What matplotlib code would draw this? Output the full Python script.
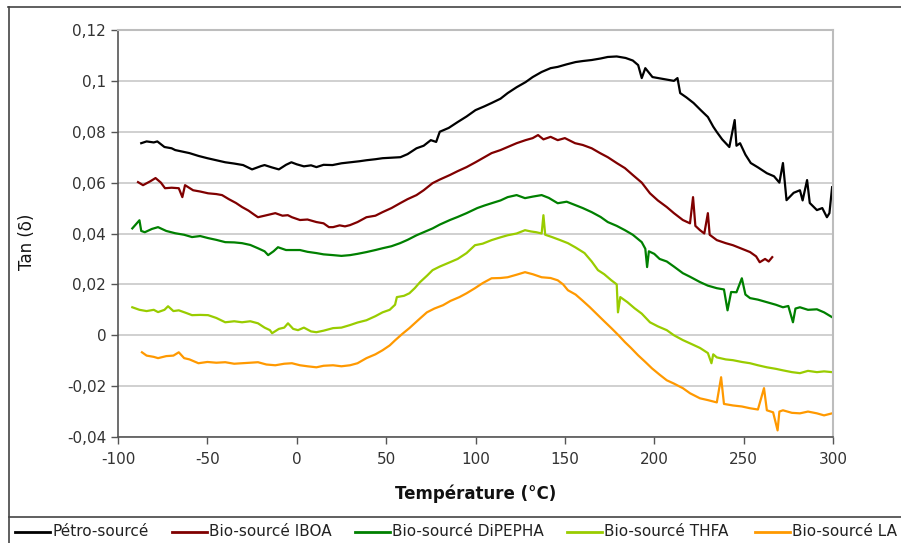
import matplotlib
matplotlib.use("Agg")
import matplotlib.pyplot as plt
from matplotlib.lines import Line2D
from matplotlib.ticker import FuncFormatter

plt.rcParams["font.family"] = "DejaVu Sans"
plt.rcParams["axes.unicode_minus"] = False

# Pétro-sourcé
petro_t = [-87, -84, -80, -78, -74, -70, -68, -64, -60, -55, -50, -45, -40, -35, -30, -25, -20, -18,
           -14, -10, -6, -3, 0, 4, 8, 11, 15, 20, 25, 30, 35, 39, 44, 48, 53, 58, 62, 67, 71, 75, 78,
           80, 85, 90, 95, 100, 105, 109, 114, 118, 123, 128, 132, 137, 142, 146, 151, 156, 160, 165,
           170, 174, 179, 184, 188, 191, 193, 195, 199, 203, 207, 211, 213, 214.5, 218, 222, 226, 230,
           233, 235, 238, 242, 245, 246, 248, 251, 254, 258, 263, 267, 270, 272, 274, 278, 281.5, 283,
           285.5, 287, 291, 294, 296.6, 298, 299.5]
petro_v = [0.0755, 0.0762, 0.0758, 0.0762, 0.0740, 0.0735, 0.0728, 0.0722, 0.0716, 0.0705, 0.0696,
           0.0688, 0.0680, 0.0675, 0.0669, 0.0652, 0.0665, 0.0669, 0.0660, 0.0652, 0.0670, 0.0680,
           0.0672, 0.0664, 0.0668, 0.0661, 0.0670, 0.0669, 0.0676, 0.0680, 0.0684, 0.0688, 0.0692,
           0.0696, 0.0698, 0.0700, 0.0712, 0.0735, 0.0745, 0.0767, 0.0760, 0.0800, 0.0815, 0.0838,
           0.0860, 0.0885, 0.0900, 0.0913, 0.0930, 0.0952, 0.0975, 0.0995, 0.1015, 0.1035, 0.1050,
           0.1055, 0.1065, 0.1074, 0.1078, 0.1082, 0.1088, 0.1094, 0.1096, 0.1090, 0.1080, 0.1062,
           0.1011, 0.1050, 0.1015, 0.1010, 0.1005, 0.1000, 0.1011, 0.0952, 0.0935, 0.0913, 0.0885,
           0.0858, 0.0820, 0.0799, 0.0770, 0.0740, 0.0846, 0.0745, 0.0755, 0.0710, 0.0677, 0.0660,
           0.0637, 0.0625, 0.0600, 0.0677, 0.0531, 0.0560, 0.0570, 0.0530, 0.0610, 0.0520, 0.0492,
           0.0500, 0.0464, 0.0480, 0.0582]

# Bio-sourcé IBOA
iboa_t = [-88.8, -86, -82, -79, -76, -73.7, -70, -66, -64, -62.5, -58, -54, -49.6, -45, -41.8, -38,
          -34, -30.6, -27, -24, -21.7, -18, -15, -12, -8, -5, -2.7, 1.8, 6, 11, 15, 18, 20.3, 24, 27,
          29.8, 34, 39, 44, 48, 53, 57.8, 62, 67, 71, 76, 80, 85.7, 90, 95, 100, 105, 109, 114, 118,
          123, 128, 132, 135, 138, 142, 146, 150, 155.7, 160, 165, 169.7, 174, 179, 183.6, 188, 193,
          197.6, 202, 207, 211, 216, 220, 221.7, 223, 225.6, 228, 230, 231, 235, 240, 244, 249, 253.6,
          257, 259, 262, 264, 266]
iboa_v = [0.0602, 0.0590, 0.0605, 0.0618, 0.0600, 0.0578, 0.0580, 0.0578, 0.0543, 0.0590, 0.0570,
          0.0565, 0.0558, 0.0555, 0.0551, 0.0535, 0.0520, 0.0504, 0.0490, 0.0475, 0.0464, 0.0470,
          0.0475, 0.0480, 0.0470, 0.0472, 0.0464, 0.0453, 0.0455, 0.0445, 0.0440, 0.0425, 0.0425,
          0.0432, 0.0428, 0.0433, 0.0445, 0.0464, 0.0470, 0.0484, 0.0500, 0.0519, 0.0535, 0.0551,
          0.0570, 0.0598, 0.0612, 0.0630, 0.0645, 0.0661, 0.0680, 0.0700, 0.0716, 0.0728, 0.0740,
          0.0755, 0.0767, 0.0775, 0.0787, 0.0770, 0.0780, 0.0767, 0.0775, 0.0755, 0.0748, 0.0735,
          0.0716, 0.0700, 0.0677, 0.0657, 0.0630, 0.0600, 0.0558, 0.0530, 0.0504, 0.0480, 0.0453,
          0.0440, 0.0543, 0.0430, 0.0413, 0.0400, 0.0480, 0.0395, 0.0374, 0.0362, 0.0354, 0.0340,
          0.0327, 0.0310, 0.0287, 0.0300, 0.0290, 0.0307]

# Bio-sourcé DiPEPHA
dipepha_t = [-92, -88, -87, -85, -81, -77.6, -73, -68, -63, -58.6, -54, -49.6, -45, -40, -35, -30.6,
             -26, -21.7, -18, -16, -13, -10.5, -6, -2.7, 1.8, 6, 11, 15, 20.3, 25, 29.8, 34, 39, 44,
             48, 53, 57.8, 62, 67, 71, 76, 80, 85.7, 90, 95, 101, 105, 109, 114, 118, 123, 127.7, 132,
             137, 141, 146, 151, 155.7, 160, 165, 170, 174, 179, 183.6, 188, 193, 195, 196, 197, 200,
             203, 207, 211, 216, 220, 225.6, 230, 235, 239, 241, 243, 246, 249, 251, 253.6, 258, 263,
             268, 272, 275, 277.6, 279, 281.5, 286, 291, 295, 299.5]
dipepha_v = [0.0420, 0.0452, 0.0410, 0.0405, 0.0418, 0.0425, 0.0410, 0.0401, 0.0395, 0.0386, 0.0390,
             0.0382, 0.0375, 0.0366, 0.0365, 0.0362, 0.0355, 0.0342, 0.0330, 0.0315, 0.0330, 0.0346,
             0.0335, 0.0335, 0.0335, 0.0328, 0.0323, 0.0318, 0.0315, 0.0312, 0.0315, 0.0320, 0.0327,
             0.0335, 0.0342, 0.0350, 0.0362, 0.0375, 0.0393, 0.0405, 0.0420, 0.0435, 0.0453, 0.0465,
             0.0480, 0.0500, 0.0510, 0.0519, 0.0530, 0.0543, 0.0551, 0.0539, 0.0545, 0.0551, 0.0540,
             0.0519, 0.0525, 0.0512, 0.0500, 0.0484, 0.0465, 0.0445, 0.0430, 0.0413, 0.0395, 0.0366,
             0.0340, 0.0268, 0.0330, 0.0320, 0.0300, 0.0290, 0.0270, 0.0244, 0.0230, 0.0209, 0.0195,
             0.0185, 0.0180, 0.0098, 0.0170, 0.0169, 0.0224, 0.0160, 0.0146, 0.0140, 0.0130, 0.0120,
             0.0110, 0.0115, 0.0051, 0.0105, 0.0110, 0.0100, 0.0102, 0.0090, 0.0071]

# Bio-sourcé THFA
thfa_t = [-92, -88, -84, -80, -77.6, -74, -72, -69, -66, -62, -58.6, -54, -49.6, -45, -40, -35, -30.6,
          -26, -21.7, -18, -15, -13.8, -10, -7, -4.9, -2, 0.7, 4, 8, 11, 15, 20.3, 25, 29.8, 34, 39,
          44, 48, 52, 55, 56, 60, 63, 66, 69, 73, 76, 80, 85.7, 90, 95, 99.7, 104, 109, 114, 118, 123,
          127.7, 131, 134, 137, 138, 139, 142.8, 147, 151.7, 156, 161, 165, 168.5, 172, 176, 179,
          179.7, 181, 185, 189, 193, 197.6, 202, 207, 211, 216, 221, 225.6, 230, 232, 233, 235, 240,
          244, 249, 253.6, 258, 263, 268, 272, 277, 281.5, 286, 291, 295, 299.5]
thfa_v = [0.0110, 0.0100, 0.0095, 0.0100, 0.0091, 0.0100, 0.0114, 0.0095, 0.0098, 0.0088, 0.0079,
          0.0080, 0.0079, 0.0068, 0.0051, 0.0055, 0.0051, 0.0055, 0.0047, 0.0030, 0.0020, 0.0008,
          0.0025, 0.0030, 0.0047, 0.0025, 0.0020, 0.0030, 0.0015, 0.0012, 0.0018, 0.0028, 0.0030,
          0.0040, 0.0050, 0.0059, 0.0075, 0.0090, 0.0100, 0.0120, 0.0150, 0.0155, 0.0165, 0.0185,
          0.0209, 0.0235, 0.0256, 0.0270, 0.0287, 0.0300, 0.0323, 0.0354, 0.0360, 0.0374, 0.0385,
          0.0393, 0.0400, 0.0413, 0.0408, 0.0405, 0.0400, 0.0472, 0.0395, 0.0386, 0.0375, 0.0362,
          0.0345, 0.0323, 0.0290, 0.0256, 0.0240, 0.0216, 0.0200, 0.0090, 0.0150, 0.0130, 0.0106,
          0.0085, 0.0051, 0.0035, 0.0020, 0.0000, -0.0019, -0.0035, -0.0050, -0.0070, -0.0110,
          -0.0075, -0.0087, -0.0095, -0.0098, -0.0105, -0.0110, -0.0118, -0.0126, -0.0132, -0.0138,
          -0.0145, -0.0149, -0.0140, -0.0145, -0.0142, -0.0145]

# Bio-sourcé LA
la_t = [-86.6, -84, -80, -77.6, -73, -69, -66, -63, -60, -55, -50, -45, -40, -35, -30.6, -26, -21.7,
        -17, -12, -7, -2.7, 1.8, 6, 11, 15, 20.3, 25, 29.8, 34, 39, 44, 48, 52, 55, 59, 63, 68, 72.8,
        77, 81.8, 86, 91, 95, 99.7, 104, 109, 114, 118, 123, 127.7, 132, 137, 142, 146, 149, 151.7,
        156, 159.6, 164, 168.5, 172, 176, 180, 183.6, 187, 191, 195, 198.7, 203, 207, 211, 216, 220,
        225.6, 230, 235, 237.4, 239, 244, 249, 253.6, 258, 261.4, 263, 266.5, 269, 270, 272, 277,
        281.5, 286, 291, 295, 299.5]
la_v = [-0.0067, -0.0080, -0.0085, -0.0090, -0.0082, -0.0080, -0.0067, -0.0090, -0.0095, -0.0110,
        -0.0105, -0.0108, -0.0106, -0.0112, -0.0110, -0.0108, -0.0106, -0.0115, -0.0118, -0.0112,
        -0.0110, -0.0118, -0.0122, -0.0126, -0.0120, -0.0118, -0.0122, -0.0118, -0.0110, -0.0090,
        -0.0075, -0.0059, -0.0040, -0.0020, 0.0005, 0.0028, 0.0060, 0.0090, 0.0105, 0.0118, 0.0135,
        0.0150, 0.0165, 0.0185, 0.0205, 0.0224, 0.0225, 0.0228, 0.0238, 0.0248, 0.0240, 0.0228,
        0.0225, 0.0216, 0.0200, 0.0177, 0.0160, 0.0138, 0.0110, 0.0079, 0.0055, 0.0028, 0.0000,
        -0.0027, -0.0050, -0.0079, -0.0105, -0.0130, -0.0155, -0.0177, -0.0190, -0.0208, -0.0228,
        -0.0248, -0.0255, -0.0264, -0.0165, -0.0270, -0.0276, -0.0280, -0.0287, -0.0292, -0.0208,
        -0.0295, -0.0303, -0.0374, -0.0300, -0.0295, -0.0305, -0.0307, -0.0300, -0.0307, -0.0315,
        -0.0307]

labels = ["Pétro-sourcé", "Bio-sourcé IBOA", "Bio-sourcé DiPEPHA", "Bio-sourcé THFA", "Bio-sourcé LA"]
colors = ["#000000", "#800000", "#008000", "#99CC00", "#FF9900"]
series = [(petro_t, petro_v), (iboa_t, iboa_v), (dipepha_t, dipepha_v), (thfa_t, thfa_v), (la_t, la_v)]

W, H = 901, 543
fig = plt.figure(figsize=(W / 100, H / 100), dpi=100)
ax = fig.add_axes([118 / W, 1 - 437 / H, (833 - 118) / W, (437 - 30) / H])

for (t, v), c in zip(series, colors):
    ax.plot(t, v, color=c, linewidth=1.6)

ax.set_xlim(-100, 300)
ax.set_ylim(-0.04, 0.12)
ax.set_xticks(range(-100, 301, 50))
ax.set_yticks([-0.04, -0.02, 0, 0.02, 0.04, 0.06, 0.08, 0.1, 0.12])
ax.yaxis.set_major_formatter(FuncFormatter(lambda y, p: ("%g" % round(y, 4)).replace(".", ",")))
ax.grid(axis="y", color="#C8C8C8", linewidth=1.2)
ax.set_axisbelow(True)
ax.tick_params(axis="both", labelsize=11, labelcolor="#333333", color="#555555",
               direction="out", length=5, width=1)
ax.tick_params(axis="x", pad=6)
for s in ["left", "bottom"]:
    ax.spines[s].set_color("#555555")
    ax.spines[s].set_linewidth(1.2)
for s in ["top", "right"]:
    ax.spines[s].set_color("#BDBDBD")
    ax.spines[s].set_linewidth(1.5)

ax.set_xlabel("Température (°C)", fontsize=12, fontweight="bold", color="#111111")
ax.xaxis.set_label_coords(0.5, (437 - 494) / 407)
ax.xaxis.label.set_verticalalignment("center")
ax.set_ylabel("Tan (δ)", fontsize=12, color="#111111")
ax.yaxis.set_label_coords((27 - 118) / 715, 0.48)
ax.yaxis.label.set_verticalalignment("center")

# outer frame and legend box
fig.add_artist(Line2D([8 / W, 1], [1 - 7 / H, 1 - 7 / H], color="#444444", linewidth=1.2))
fig.add_artist(Line2D([9 / W, 9 / W], [0, 1 - 7 / H], color="#444444", linewidth=1.2))
fig.add_artist(Line2D([9 / W, 1], [1 - 517 / H, 1 - 517 / H], color="#444444", linewidth=1.2))

legend_x = [15, 172, 355, 567, 755]
for lx, lab, c in zip(legend_x, labels, colors):
    yy = 1 - 532 / H
    fig.add_artist(Line2D([lx / W, (lx + 35) / W], [yy, yy], color=c, linewidth=2))
    fig.text((lx + 37) / W, yy, lab, fontsize=11, color="#222222", va="center", ha="left")

fig.savefig("out.png", dpi=100)
